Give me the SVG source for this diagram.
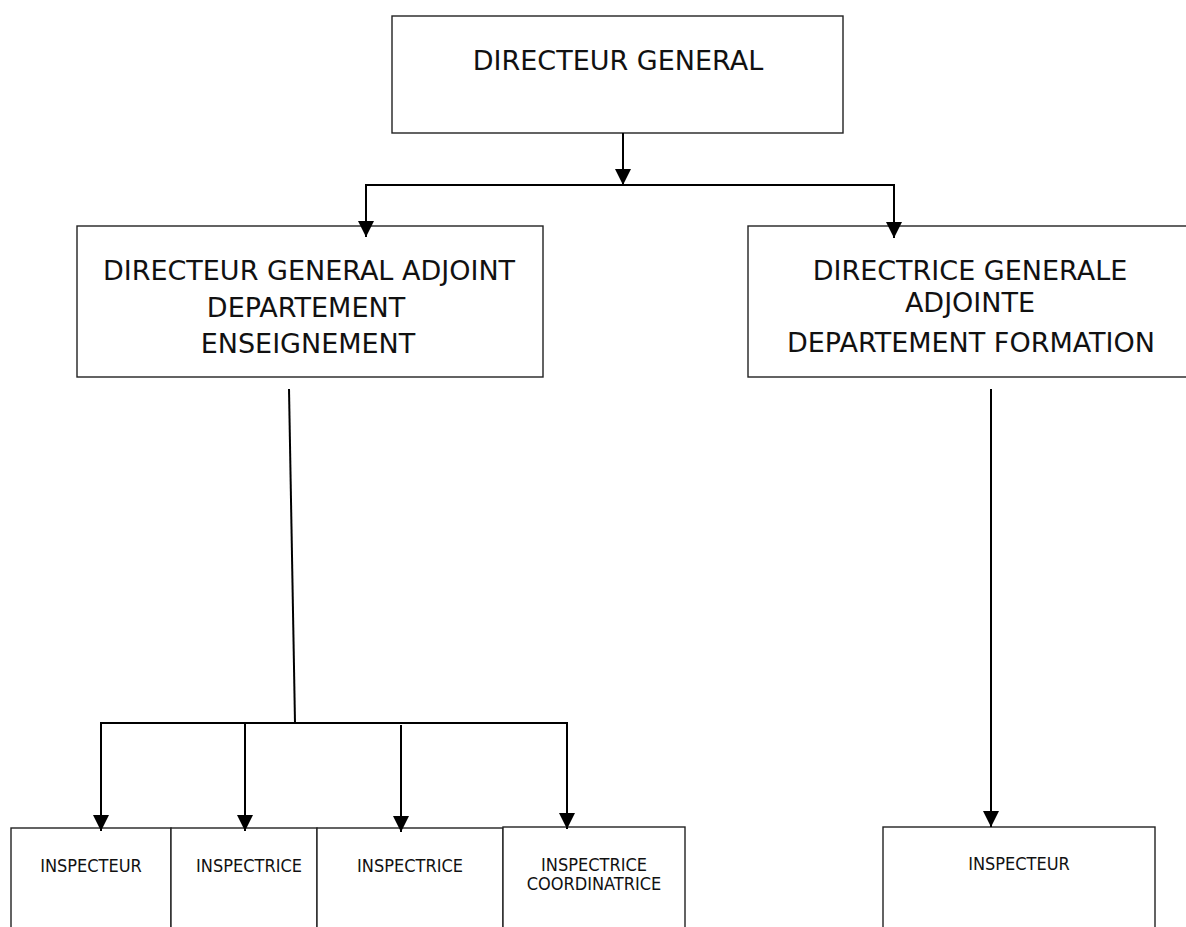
<svg xmlns="http://www.w3.org/2000/svg" width="1186" height="927" viewBox="0 0 1186 927">
<style>
.box{fill:#fff;stroke:#222;stroke-width:1.4}
.big{font-family:"DejaVu Sans","Liberation Sans",sans-serif;font-size:27px;fill:#111;text-anchor:middle}
.small{font-family:"DejaVu Sans","Liberation Sans",sans-serif;font-size:18px;font-stretch:condensed;fill:#111;text-anchor:middle}
.conn{fill:none;stroke:#000;stroke-width:2}
</style>
<defs>
<marker id="arr" markerUnits="userSpaceOnUse" markerWidth="16" markerHeight="16" refX="15" refY="7.5" orient="auto" viewBox="0 0 15 15">
<path d="M0,0 L15,7.5 L0,15 z" fill="#000"/>
</marker>
</defs>
<g id="dg">
<rect class="box" x="392" y="16" width="451" height="117"/>
<text class="big" x="618" y="70">DIRECTEUR GENERAL</text>
</g>
<g id="dga">
<rect class="box" x="77" y="226" width="466" height="151"/>
<text class="big" x="309" y="280">DIRECTEUR GENERAL ADJOINT</text>
<text class="big" x="306" y="317">DEPARTEMENT</text>
<text class="big" x="308" y="353">ENSEIGNEMENT</text>
</g>
<g id="dgaf">
<rect class="box" x="748" y="226" width="460" height="151"/>
<text class="big" x="970" y="280">DIRECTRICE GENERALE</text>
<text class="big" x="970" y="312">ADJOINTE</text>
<text class="big" x="971" y="352">DEPARTEMENT FORMATION</text>
</g>
<g id="insp1">
<rect class="box" x="11" y="828" width="160" height="120"/>
<text class="small" x="91" y="872">INSPECTEUR</text>
</g>
<g id="insp2">
<rect class="box" x="171" y="828" width="146" height="120"/>
<text class="small" x="249" y="872">INSPECTRICE</text>
</g>
<g id="insp3">
<rect class="box" x="317" y="828" width="186" height="120"/>
<text class="small" x="410" y="872">INSPECTRICE</text>
</g>
<g id="insp4">
<rect class="box" x="503" y="827" width="182" height="120"/>
<text class="small" x="594" y="871">INSPECTRICE</text>
<text class="small" x="594" y="890">COORDINATRICE</text>
</g>
<g id="insp5">
<rect class="box" x="883" y="827" width="272" height="120"/>
<text class="small" x="1019" y="870">INSPECTEUR</text>
</g>
<g id="connectors">
<line class="conn" x1="623" y1="133" x2="623" y2="185" marker-end="url(#arr)"/>
<polyline class="conn" points="366,236 366,185 894,185 894,238" marker-end="url(#arr)"/>
<line class="conn" x1="366" y1="185" x2="366" y2="237" marker-end="url(#arr)"/>
<line class="conn" x1="289" y1="389" x2="295" y2="723"/>
<polyline class="conn" points="101,831 101,723 567,723 567,829"/>
<line class="conn" x1="101" y1="723" x2="101" y2="831" marker-end="url(#arr)"/>
<line class="conn" x1="245" y1="723" x2="245" y2="831" marker-end="url(#arr)"/>
<line class="conn" x1="401" y1="725" x2="401" y2="832" marker-end="url(#arr)"/>
<line class="conn" x1="567" y1="723" x2="567" y2="829" marker-end="url(#arr)"/>
<line class="conn" x1="991" y1="389" x2="991" y2="827" marker-end="url(#arr)"/>
</g>
</svg>
